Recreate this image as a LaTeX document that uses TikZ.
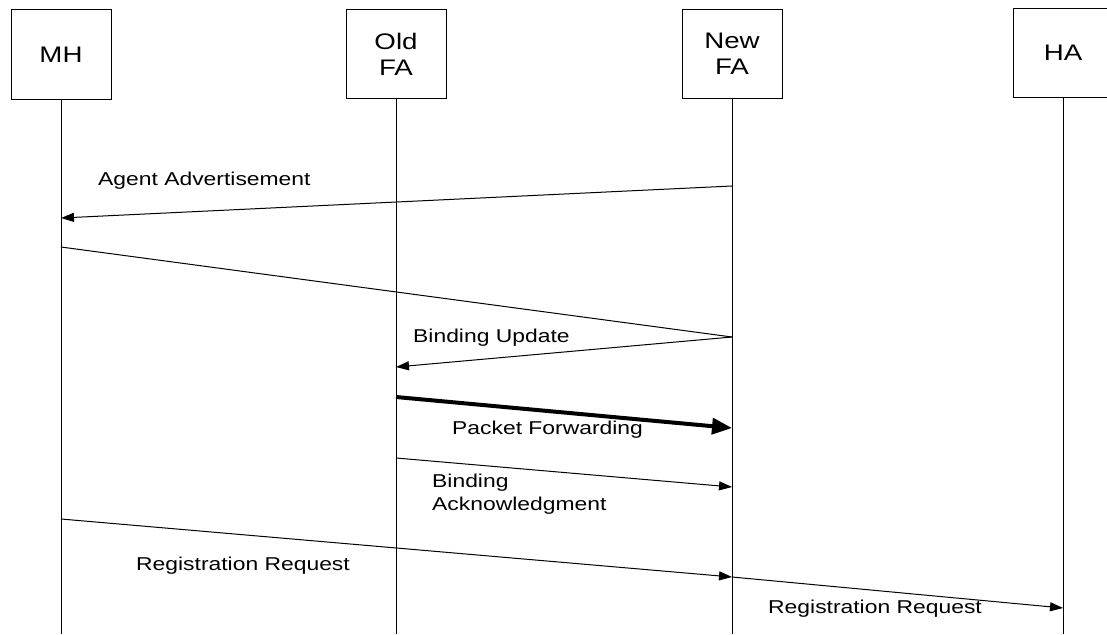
\documentclass[tikz,border=0pt]{standalone}
\usepackage{fontspec}
\newfontfamily\diagfont{Liberation Sans}[FakeStretch=1.23]
\usetikzlibrary{arrows.meta}

\tikzset{
  entity/.style={draw, line width=1pt, minimum width=100pt, minimum height=89pt,
    inner sep=0pt, align=center, font=\diagfont\fontsize{22.5}{26}\selectfont},
  lifeline/.style={line width=1pt},
  msg/.style={line width=1pt, -{Triangle[length=13pt,width=9pt]}},
  plainmsg/.style={line width=1pt},
  bigmsg/.style={line width=4pt, -{Triangle[length=20pt,width=16pt]}},
  msglabel/.style={anchor=base west, inner sep=0pt, align=left,
    font=\diagfont\fontsize{18.6}{23}\selectfont}
}

\begin{document}
\begin{tikzpicture}[x=1pt, y=-1pt]
  \useasboundingbox (0,0) rectangle (1107,634);
  \fill[white] (0,0) rectangle (1107,634);
  \clip (0,0) rectangle (1107,634);

  % participants
  \node[entity] (mh)  at (61,54.5)  {MH};
  \node[entity] (ofa) at (396,54)   {Old\\FA};
  \node[entity] (nfa) at (732,54)   {New\\FA};
  \node[entity] (ha)  at (1063,53)  {HA};

  % lifeline ends
  \coordinate (mhEnd)  at (mh  |- 0,634);
  \coordinate (ofaEnd) at (ofa |- 0,634);
  \coordinate (nfaEnd) at (nfa |- 0,634);
  \coordinate (haEnd)  at (ha  |- 0,634);
  \draw[lifeline] (mh.south)  -- (mhEnd);
  \draw[lifeline] (ofa.south) -- (ofaEnd);
  \draw[lifeline] (nfa.south) -- (nfaEnd);
  \draw[lifeline] (ha.south)  -- (haEnd);

  % message end points on the lifelines
  \coordinate (advFrom) at (nfa |- 0,186);
  \coordinate (advTo)   at (mh  |- 0,218);
  \coordinate (mvFrom)  at (mh  |- 0,247);
  \coordinate (mvTo)    at (nfa |- 0,337);
  \coordinate (buFrom)  at (nfa |- 0,337);
  \coordinate (buTo)    at (ofa |- 0,367);
  \coordinate (pfFrom)  at (ofa |- 0,397);
  \coordinate (pfTo)    at (nfa |- 0,428);
  \coordinate (baFrom)  at (ofa |- 0,458);
  \coordinate (baTo)    at (nfa |- 0,487);
  \coordinate (rr1From) at (mh  |- 0,519);
  \coordinate (rr1To)   at (nfa |- 0,577);
  \coordinate (rr2From) at (nfa |- 0,577);
  \coordinate (rr2To)   at (ha  |- 0,608);

  % messages
  \draw[msg]      (advFrom) -- (advTo);
  \draw[plainmsg] (mvFrom)  -- (mvTo);
  \draw[msg]      (buFrom)  -- (buTo);
  \draw[bigmsg]   (pfFrom)  -- (pfTo);
  \draw[msg]      (baFrom)  -- (baTo);
  \draw[msg]      (rr1From) -- (rr1To);
  \draw[msg]      (rr2From) -- (rr2To);

  % message labels
  \node[msglabel] (advLbl) at (98,185)  {Agent Advertisement};
  \node[msglabel] (buLbl)  at (413,342) {Binding Update};
  \node[msglabel] (pfLbl)  at (452,434) {Packet Forwarding};
  \node[msglabel, anchor=north west] (baLbl) at (432,474) {Binding\\Acknowledgment};
  \node[msglabel] (rr1Lbl) at (136,570) {Registration Request};
  \node[msglabel] (rr2Lbl) at (768,613) {Registration Request};
\end{tikzpicture}
\end{document}
